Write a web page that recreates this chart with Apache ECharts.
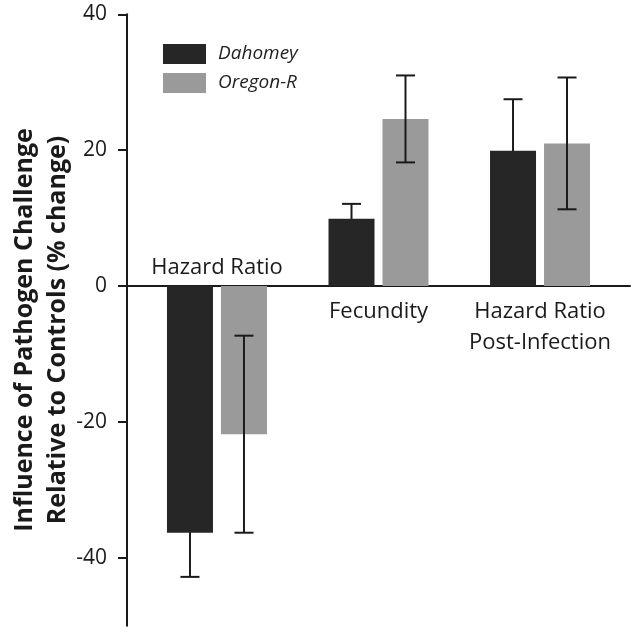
<!DOCTYPE html>
<html><head><meta charset="utf-8">
<script src="https://cdn.jsdelivr.net/npm/echarts@6/dist/echarts.min.js"></script>
<style>html,body{margin:0;padding:0;background:#fff}#c{width:633px;height:636px}</style>
</head><body><div id="c"></div>
<script>
const categories = ['Hazard Ratio', 'Fecundity', 'Hazard Ratio\nPost-Infection'];
const seriesNames = ['Dahomey', 'Oregon-R'];
const dahomey = [-36.3, 9.9, 19.9];
const dahomeyErr = [6.5, 2.2, 7.6];
const oregon = [-21.8, 24.6, 21.0];
const oregonErr = [14.5, 6.4, 9.7];
const yTicks = [-40, -20, 0, 20, 40];
const yTitle = 'Influence of Pathogen Challenge\nRelative to Controls (% change)';

const FONT = 'Open Sans';
const BAR_W = 46, BAR_GAP = 8;
const OFF = (BAR_W + BAR_GAP) / 2;

function errData(vals, errs) {
  return vals.map((v, i) => [i, v - errs[i], v + errs[i]]);
}
function errRender(offset) {
  return function (params, api) {
    const x = api.value(0);
    const pLo = api.coord([x, api.value(1)]);
    const pHi = api.coord([x, api.value(2)]);
    const cx = pLo[0] + offset;
    const cap = 9.5;
    const st = { stroke: '#1a1a1a', lineWidth: 2 };
    return {
      type: 'group',
      children: [
        { type: 'line', shape: { x1: cx, y1: pLo[1], x2: cx, y2: pHi[1] }, style: st },
        { type: 'line', shape: { x1: cx - cap, y1: pLo[1], x2: cx + cap, y2: pLo[1] }, style: st },
        { type: 'line', shape: { x1: cx - cap, y1: pHi[1], x2: cx + cap, y2: pHi[1] }, style: st }
      ]
    };
  };
}

const labelData = categories.map((c, i) => [i, Math.min(dahomey[i], oregon[i]) < 0 ? 1 : 0, c]);

const chart = echarts.init(document.getElementById('c'), null, { renderer: 'canvas' });
chart.setOption({
  animation: false,
  backgroundColor: '#fff',
  textStyle: { fontFamily: FONT },
  grid: { left: 127, right: 3, top: 14.3, bottom: 10.2, containLabel: false },
  legend: {
    orient: 'vertical', left: 163, top: 44, padding: 0,
    itemWidth: 43, itemHeight: 20, itemGap: 9,
    icon: 'rect',
    data: seriesNames,
    textStyle: { fontFamily: FONT, fontSize: 19, fontStyle: 'italic', color: '#222', padding: [0, 0, 0, 7] }
  },
  xAxis: {
    type: 'value', min: -0.557, max: 2.557,
    axisLine: { onZero: true, lineStyle: { color: '#1a1a1a', width: 2 } },
    axisTick: { show: false }, axisLabel: { show: false }, splitLine: { show: false }
  },
  yAxis: {
    type: 'value', min: -50, max: 40,
    axisLine: { show: true, onZero: false, lineStyle: { color: '#1a1a1a', width: 2 } },
    axisTick: { show: true, length: 9, customValues: yTicks, lineStyle: { color: '#1a1a1a', width: 2 } },
    axisLabel: { customValues: yTicks, fontFamily: FONT, fontSize: 21, color: '#1a1a1a', margin: 20 },
    splitLine: { show: false }
  },
  graphic: [{
    type: 'text', x: 41, y: 330, rotation: Math.PI / 2,
    style: {
      text: yTitle, fontFamily: FONT, fontSize: 25, fontWeight: 'bold', fill: '#1a1a1a',
      align: 'center', verticalAlign: 'middle', lineHeight: 33
    }
  }],
  series: [
    { name: seriesNames[0], type: 'bar', barWidth: BAR_W, barGap: (BAR_GAP / BAR_W * 100) + '%',
      itemStyle: { color: '#262626' }, data: dahomey.map((v, i) => [i, v]), z: 3 },
    { name: seriesNames[1], type: 'bar', barWidth: BAR_W, barGap: (BAR_GAP / BAR_W * 100) + '%',
      itemStyle: { color: '#9a9a9a' }, data: oregon.map((v, i) => [i, v]), z: 3 },
    { type: 'custom', renderItem: errRender(-OFF), data: errData(dahomey, dahomeyErr), z: 1, clip: false, silent: true },
    { type: 'custom', renderItem: errRender(OFF), data: errData(oregon, oregonErr), z: 5, clip: false, silent: true },
    { type: 'custom', z: 6, clip: false, silent: true, data: labelData,
      renderItem: function (params, api) {
        const p = api.coord([api.value(0), 0]);
        const above = api.value(1) === 1;
        return {
          type: 'text', x: p[0], y: above ? p[1] - 3 : p[1] + 10,
          style: {
            text: labelData[params.dataIndex][2], fontFamily: FONT, fontSize: 22, fill: '#1a1a1a',
            align: 'center', verticalAlign: above ? 'bottom' : 'top', lineHeight: 31
          }
        };
      }
    }
  ]
});
</script></body></html>
